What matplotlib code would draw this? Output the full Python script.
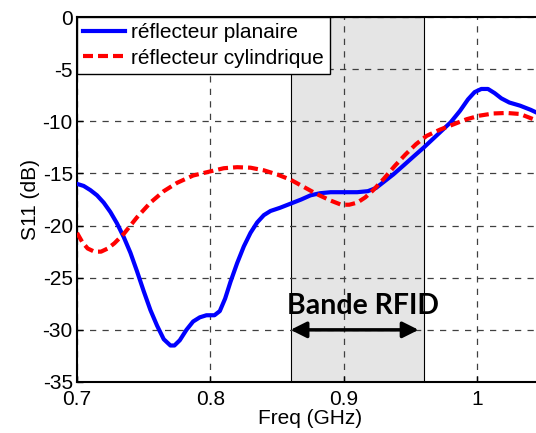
import matplotlib
matplotlib.use("Agg")
from matplotlib import pyplot as plt

plt.rcParams['font.family'] = ['Liberation Sans', 'DejaVu Sans']
plt.rcParams['axes.unicode_minus'] = False

# reflecteur planaire
f_plan = [0.700, 0.705, 0.710, 0.715, 0.720, 0.725, 0.730, 0.735, 0.740, 0.745,
          0.750, 0.755, 0.760, 0.765, 0.770, 0.773, 0.777, 0.782, 0.787, 0.792,
          0.797, 0.803, 0.807, 0.811, 0.815, 0.820, 0.825, 0.830, 0.835, 0.840,
          0.845, 0.852, 0.860, 0.868, 0.875, 0.882, 0.890, 0.910, 0.918, 0.924,
          0.930, 0.937, 0.945, 0.952, 0.960, 0.970, 0.980, 0.987, 0.993, 0.998,
          1.003, 1.008, 1.013, 1.018, 1.024, 1.032, 1.040, 1.050]
s_plan = [-16.0, -16.2, -16.6, -17.1, -17.8, -18.7, -19.8, -21.1, -22.6, -24.4,
          -26.3, -28.1, -29.6, -30.9, -31.5, -31.5, -31.0, -30.0, -29.2, -28.8,
          -28.6, -28.6, -28.2, -27.0, -25.4, -23.6, -22.0, -20.7, -19.7, -19.0,
          -18.6, -18.3, -17.9, -17.5, -17.1, -16.9, -16.8, -16.8, -16.7, -16.4,
          -15.8, -15.1, -14.2, -13.4, -12.5, -11.3, -10.1, -9.0, -7.9, -7.2,
          -6.9, -6.9, -7.3, -7.8, -8.2, -8.5, -8.9, -9.5]

# reflecteur cylindrique
f_cyl = [0.700, 0.704, 0.708, 0.713, 0.718, 0.723, 0.728, 0.735, 0.745, 0.755,
         0.765, 0.775, 0.787, 0.800, 0.810, 0.820, 0.830, 0.840, 0.850, 0.860,
         0.870, 0.880, 0.890, 0.898, 0.904, 0.910, 0.916, 0.922, 0.930, 0.938,
         0.946, 0.954, 0.962, 0.972, 0.982, 0.992, 1.002, 1.012, 1.022, 1.032,
         1.042, 1.050]
s_cyl = [-20.7, -21.6, -22.2, -22.5, -22.5, -22.2, -21.7, -20.8, -19.2, -17.8,
         -16.7, -15.9, -15.2, -14.8, -14.5, -14.4, -14.45, -14.7, -15.1, -15.6,
         -16.3, -17.0, -17.6, -18.0, -18.0, -17.8, -17.3, -16.6, -15.5, -14.3,
         -13.2, -12.2, -11.4, -10.8, -10.3, -9.8, -9.45, -9.25, -9.2, -9.3,
         -9.8, -10.2]

band = (0.86, 0.96)

fig = plt.figure(figsize=(5.36, 4.33), dpi=100)
ax = fig.add_axes([0.1437, 0.1178, 0.8713, 0.8429])

ax.axvspan(band[0], band[1], facecolor='#e5e5e5', edgecolor='black', lw=0.8, zorder=1)

ax.plot(f_plan, s_plan, color='#0000ff', lw=3, label='réflecteur planaire', zorder=3)
ax.plot(f_cyl, s_cyl, color='#ff0000', lw=3, ls=(0, (2.4, 1.2)),
        label='réflecteur cylindrique', zorder=3)

ax.annotate('', xy=(band[0], -30), xytext=(0.956, -30),
            arrowprops=dict(arrowstyle='<|-|>', color='black', lw=2.5,
                            mutation_scale=24, shrinkA=0, shrinkB=0), zorder=4)
ax.text(0.914, -27.7, 'Bande RFID', fontsize=20.5, fontweight='bold',
        family=['Lato', 'DejaVu Sans'], ha='center', va='center', zorder=4)

ax.set_xlim(0.7, 1.05)
ax.set_ylim(-35, 0)
ax.set_xticks([0.7, 0.8, 0.9, 1.0])
ax.set_xticklabels(['0.7', '0.8', '0.9', '1'])
ax.set_yticks(range(-35, 1, 5))
ax.grid(True, color='0.25', ls=(0, (5, 5)), lw=0.9)
ax.tick_params(direction='in', length=4, labelsize=15, width=1, pad=3)
ax.tick_params(axis='x', pad=6)
for s in ax.spines.values():
    s.set_linewidth(1.5)

ax.set_xlabel('Freq (GHz)', fontsize=15, labelpad=0)
ax.set_ylabel('S11 (dB)', fontsize=15, labelpad=2)

leg = ax.legend(loc='upper left', fontsize=15, frameon=True, fancybox=False,
                borderaxespad=0, handlelength=2.0, borderpad=0.3, labelspacing=0.3,
                handletextpad=0.3)
leg.get_frame().set_edgecolor('black')
leg.get_frame().set_linewidth(1.0)
leg.get_frame().set_alpha(1)

fig.savefig('out.png', dpi=100)
